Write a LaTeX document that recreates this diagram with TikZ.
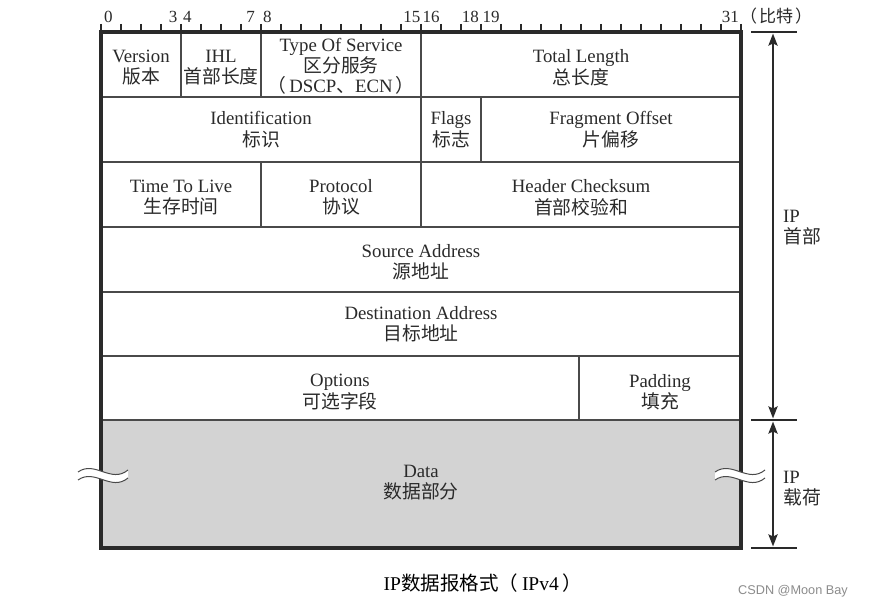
\documentclass[tikz,border=0pt]{standalone}
\usepackage{fontspec}
\setmainfont{Liberation Serif}
\setsansfont{Liberation Sans}
\newfontfamily\cjk[Scale=1.0]{Noto Sans CJK SC}
\usetikzlibrary{arrows.meta}
\definecolor{ink}{HTML}{2A2A2A}
\definecolor{grid}{HTML}{4A4A4A}
\definecolor{datagray}{HTML}{D3D3D3}
\begin{document}
\begin{tikzpicture}[x=1pt,y=-1pt,
  cell/.style={draw=grid, line width=1.4pt, inner sep=0pt, outer sep=0pt},
  txt/.style={align=center, text=ink, inner sep=0pt, font=\fontsize{18.8}{21.5}\selectfont},
  ruler/.style={text=ink, font=\fontsize{17}{17}\selectfont, inner sep=0pt},
  sidelbl/.style={text=ink, align=left, anchor=west, inner sep=0pt,
    font=\fontsize{18.8}{21}\selectfont},
  dim/.style={draw=ink, line width=2.6pt, {Stealth[length=12pt,width=9pt,inset=2pt]}-{Stealth[length=12pt,width=9pt,inset=2pt]}},
  ext/.style={draw=ink, line width=1.3pt},
  wave/.style={draw=grid, line width=1pt}
]
\useasboundingbox (0,0) rectangle (878,609);
\fill[white] (0,0) rectangle (878,609);

% ruler
\foreach \k in {0,...,32} \draw[ink, line width=1.2pt] (101+20*\k,24) -- (101+20*\k,32);
\foreach \x/\b in {104/0,183/4,263/8,422.5/16,482.5/19}
  \node[ruler, anchor=west] (rs\b) at (\x,16.5) {\b};
\foreach \x/\b in {177.5/3,255/7,420.5/15,479/18,739/31}
  \node[ruler, anchor=east] (re\b) at (\x,16.5) {\b};
\node[ruler, anchor=west, font=\fontsize{17}{17}\selectfont\cjk] (unit) at (740,16.5) {（\hspace{2pt}比特\hspace{2pt}）};

% cells
\node[cell, minimum width=80pt, minimum height=65pt] (ver) at (141,64.5) {};
\node[cell, minimum width=80pt, minimum height=65pt] (ihl) at (221,64.5) {};
\node[cell, minimum width=160pt, minimum height=65pt] (tos) at (341,64.5) {};
\node[cell, minimum width=320pt, minimum height=65pt] (tlen) at (581,64.5) {};
\node[cell, minimum width=320pt, minimum height=65pt] (ident) at (261,129.5) {};
\node[cell, minimum width=60pt, minimum height=65pt] (flags) at (451,129.5) {};
\node[cell, minimum width=260pt, minimum height=65pt] (frag) at (611,129.5) {};
\node[cell, minimum width=160pt, minimum height=65pt] (ttl) at (181,194.5) {};
\node[cell, minimum width=160pt, minimum height=65pt] (proto) at (341,194.5) {};
\node[cell, minimum width=320pt, minimum height=65pt] (csum) at (581,194.5) {};
\node[cell, minimum width=640pt, minimum height=65pt] (src) at (421,259.5) {};
\node[cell, minimum width=640pt, minimum height=64pt] (dst) at (421,324) {};
\node[cell, minimum width=478pt, minimum height=64pt] (opt) at (340,388) {};
\node[cell, minimum width=162pt, minimum height=64pt] (pad) at (660,388) {};
\node[cell, fill=datagray, minimum width=640pt, minimum height=128pt] (data) at (421,484) {};

% texts
\node[txt] (vert) at ([yshift=-3pt]ver.center) {Version\\{\cjk 版本}};
\node[txt] (ihlt) at ([yshift=-3pt]ihl.center) {IHL\\{\cjk 首部长度}};
\node[txt, font=\fontsize{18.8}{20.5}\selectfont] (tost) at ([yshift=-2pt]tos.center) {Type Of Service\\{\cjk 区分服务}\\{\cjk （}\hspace{3pt}DSCP{\cjk 、}ECN\hspace{3pt}{\cjk ）}};
\node[txt] (tlent) at ([yshift=-3pt]tlen.center) {Total Length\\{\cjk 总长度}};
\node[txt] (identt) at ([yshift=0pt]ident.center) {Identification\\{\cjk 标识}};
\node[txt] (flagst) at ([yshift=0pt]flags.center) {Flags\\{\cjk 标志}};
\node[txt] (fragt) at ([yshift=0pt]frag.center) {Fragment Offset\\{\cjk 片偏移}};
\node[txt] (ttlt) at ([yshift=-3pt]ttl.center) {Time To Live\\{\cjk 生存时间}};
\node[txt] (protot) at ([yshift=-3pt]proto.center) {Protocol\\{\cjk 协议}};
\node[txt] (csumt) at ([yshift=-3pt]csum.center) {Header Checksum\\{\cjk 首部校验和}};
\node[txt] (srct) at ([yshift=-2.5pt]src.center) {Source Address\\{\cjk 源地址}};
\node[txt] (dstt) at ([yshift=0pt]dst.center) {Destination Address\\{\cjk 目标地址}};
\node[txt] (optt) at ([yshift=-4pt]opt.center) {Options\\{\cjk 可选字段}};
\node[txt] (padt) at ([yshift=-4pt]pad.center) {Padding\\{\cjk 填充}};
\node[txt] (datat) at ([yshift=1.5pt]data.center) {Data\\{\cjk 数据部分}};

% outer border
\draw[ink, line width=3.2pt] (101,32) rectangle (741,548);

% break marks
\foreach \x in {78,715} {
  \fill[white] (\x,472) .. controls (\x+17,460) and (\x+33,484) .. (\x+50,470)
    -- (\x+50,478) .. controls (\x+33,492) and (\x+17,468) .. (\x,480) -- cycle;
  \draw[wave] (\x,472) .. controls (\x+17,460) and (\x+33,484) .. (\x+50,470);
  \draw[wave] (\x,480) .. controls (\x+17,468) and (\x+33,492) .. (\x+50,478);
}

% right dimension
\coordinate (e1l) at (751,32);  \coordinate (e1r) at (797,32);
\coordinate (e2l) at (751,420); \coordinate (e2r) at (797,420);
\coordinate (e3l) at (751,548); \coordinate (e3r) at (797,548);
\coordinate (a1) at (773,33.5); \coordinate (a2) at (773,418.5);
\coordinate (a3) at (773,421.5); \coordinate (a4) at (773,546.5);
\draw[ext] (e1l) -- (e1r);
\draw[ext] (e2l) -- (e2r);
\draw[ext] (e3l) -- (e3r);
\draw[dim] (a1) -- (a2);
\draw[dim] (a3) -- (a4);
\node[sidelbl] (hdr) at (783,228) {IP\\{\cjk 首部}};
\node[sidelbl] (pay) at (783,488.5) {IP\\{\cjk 载荷}};

% caption
\node[text=black, inner sep=0pt, font=\fontsize{19.5}{20}\selectfont] (cap) at (483,583) {IP{\cjk 数据报格式（}\hspace{4pt}IPv4\hspace{4pt}{\cjk ）}};
\node[text=black!45, inner sep=0pt, font=\sffamily\fontsize{12.7}{13}\selectfont] (wm) at (793,591) {CSDN @Moon Bay};
\end{tikzpicture}
\end{document}
